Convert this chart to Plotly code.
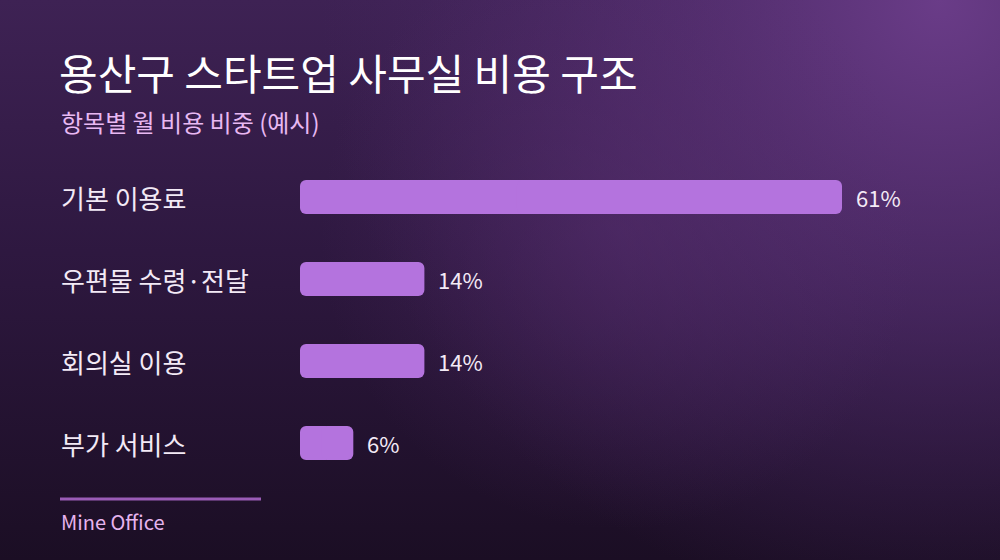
import base64

import plotly.graph_objects as go

# data
categories = ["기본 이용료", "우편물 수령·전달", "회의실 이용", "부가 서비스"]
shares = [61, 14, 14, 6]
value_labels = ["61%", "14%", "14%", "6%"]

title_text = "용산구 스타트업 사무실 비용 구조"
subtitle_text = "항목별 월 비용 비중 (예시)"
source_text = "Mine Office"

W, H = 1000, 560
M_L, M_R, M_T, M_B = 300, 0, 156, 76
PW, PH = W - M_L - M_R, H - M_T - M_B
FONT = "Noto Sans CJK KR"
BAR_COLOR = "#b473de"


def px_x(x):
    return (x - M_L) / PW


def px_y(y):
    return (H - M_B - y) / PH


# background gradient as an svg image
bg_svg = f"""<svg xmlns='http://www.w3.org/2000/svg' width='{W}' height='{H}' viewBox='0 0 {W} {H}' preserveAspectRatio='none'>
<defs>
<linearGradient id='v' x1='0' y1='0' x2='0' y2='1'>
<stop offset='0' stop-color='#3e2254'/>
<stop offset='0.45' stop-color='#2e1840'/>
<stop offset='1' stop-color='#1b0e24'/>
</linearGradient>
<radialGradient id='tr' cx='940' cy='0' r='620' gradientUnits='userSpaceOnUse'>
<stop offset='0' stop-color='#6a3c88' stop-opacity='1'/>
<stop offset='0.5' stop-color='#5a3278' stop-opacity='0.55'/>
<stop offset='1' stop-color='#4a2866' stop-opacity='0'/>
</radialGradient>
<radialGradient id='c' cx='620' cy='230' r='300' gradientUnits='userSpaceOnUse'>
<stop offset='0' stop-color='#5a2f72' stop-opacity='0.45'/>
<stop offset='1' stop-color='#5a2f72' stop-opacity='0'/>
</radialGradient>
</defs>
<rect width='{W}' height='{H}' fill='url(#v)'/>
<rect width='{W}' height='{H}' fill='url(#tr)'/>
<rect width='{W}' height='{H}' fill='url(#c)'/>
</svg>"""
bg_uri = "data:image/svg+xml;base64," + base64.b64encode(bg_svg.encode()).decode()

# each bar is drawn as two overlapping halves so both ends get rounded corners
fig = go.Figure()
fig.add_trace(go.Bar(
    x=[-v * 0.6 for v in shares],
    base=[v * 0.6 for v in shares],
    y=categories,
    orientation="h",
    width=34 / 82,
    marker=dict(color=BAR_COLOR, cornerradius=6, line=dict(width=0)),
    hoverinfo="skip",
))
fig.add_trace(go.Bar(
    x=[v * 0.6 for v in shares],
    base=[v * 0.4 for v in shares],
    y=categories,
    orientation="h",
    width=34 / 82,
    marker=dict(color=BAR_COLOR, cornerradius=6, line=dict(width=0)),
    hoverinfo="skip",
))

annotations = []
for cat, val, lab in zip(categories, shares, value_labels):
    annotations.append(dict(
        x=px_x(59), xref="paper", y=cat, yref="y", text=cat,
        xanchor="left", yanchor="middle", showarrow=False,
        font=dict(family=FONT, size=26, color="#f3eaf6"),
    ))
    annotations.append(dict(
        x=val, xref="x", y=cat, yref="y", text=lab,
        xanchor="left", yanchor="middle", showarrow=False, xshift=12,
        font=dict(family=FONT, size=22, color="#f3eaf6"),
    ))

annotations += [
    dict(x=px_x(57), xref="paper", y=px_y(71), yref="paper", text=title_text,
         xanchor="left", yanchor="middle", showarrow=False,
         font=dict(family=FONT, size=42, color="#ffffff")),
    dict(x=px_x(59), xref="paper", y=px_y(122), yref="paper", text=subtitle_text,
         xanchor="left", yanchor="middle", showarrow=False,
         font=dict(family=FONT, size=24, color="#e8b8f2")),
    dict(x=px_x(59), xref="paper", y=px_y(521), yref="paper", text=source_text,
         xanchor="left", yanchor="middle", showarrow=False,
         font=dict(family=FONT, size=20, color="#e6b4ee")),
]

fig.update_layout(
    width=W, height=H,
    margin=dict(l=M_L, r=M_R, t=M_T, b=M_B),
    paper_bgcolor="#2a1638",
    plot_bgcolor="rgba(0,0,0,0)",
    showlegend=False,
    barmode="overlay",
    xaxis=dict(range=[0, 61 * PW / 542], visible=False, fixedrange=True),
    yaxis=dict(categoryorder="array", categoryarray=categories[::-1],
               range=[-0.5, 3.5], visible=False, fixedrange=True),
    annotations=annotations,
    shapes=[dict(type="line", xref="paper", yref="paper",
                 x0=px_x(60), x1=px_x(261), y0=px_y(499), y1=px_y(499),
                 line=dict(color="#9a5cb6", width=3))],
    images=[dict(source=bg_uri, xref="paper", yref="paper",
                 x=px_x(0), y=px_y(0), sizex=W / PW, sizey=H / PH,
                 xanchor="left", yanchor="top", sizing="stretch", layer="below")],
)

fig.write_html(
    "out.html",
    config={"displayModeBar": False},
    post_script="document.body.style.margin='0';document.body.style.background='#1b0e24';",
)
